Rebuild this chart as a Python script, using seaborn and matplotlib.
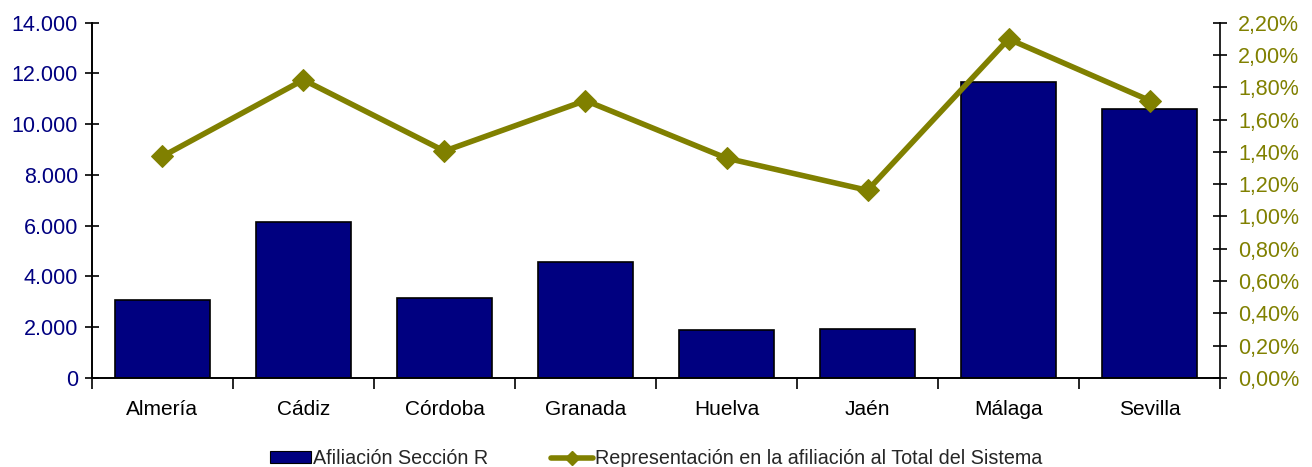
import numpy as np
import pandas as pd
import matplotlib
matplotlib.use("Agg")
import matplotlib.pyplot as plt
from matplotlib.ticker import FuncFormatter, MultipleLocator, FixedLocator
from matplotlib.lines import Line2D
from matplotlib.patches import Patch
import seaborn as sns

provincias = ["Almería", "Cádiz", "Córdoba", "Granada", "Huelva", "Jaén", "Málaga", "Sevilla"]
afiliacion = [3090, 6150, 3150, 4590, 1890, 1950, 11680, 10610]
representacion = [1.372, 1.846, 1.405, 1.718, 1.361, 1.162, 2.099, 1.718]

etiqueta_barras = "Afiliación Sección R"
etiqueta_linea = "Representación en la afiliación al Total del Sistema"

df = pd.DataFrame({"provincia": provincias, "afiliacion": afiliacion,
                   "representacion": representacion})
df["pos"] = np.arange(len(df))

sns.set_style("white")
plt.rcParams["font.family"] = ["Liberation Sans", "DejaVu Sans"]

navy = "#000080"
olive = "#808000"

fig = plt.figure(figsize=(13.12, 4.67), dpi=100)
ax = fig.add_axes([0.070, 0.1906, 0.860, 0.7608])

sns.barplot(data=df, x="provincia", y="afiliacion", color=navy, saturation=1,
            width=0.67, edgecolor="black", linewidth=1.2, ax=ax)

ax2 = ax.twinx()
sns.lineplot(data=df, x="pos", y="representacion", color=olive, linewidth=4,
             marker="D", markersize=11, markeredgecolor=olive, ax=ax2)

ax.set_xlim(-0.5, len(provincias) - 0.5)
ax.set_ylim(0, 14000)
ax2.set_ylim(0, 2.2)

ax.yaxis.set_major_locator(MultipleLocator(2000))
ax2.yaxis.set_major_locator(MultipleLocator(0.2))
ax.yaxis.set_major_formatter(FuncFormatter(lambda v, p: f"{int(v):,}".replace(",", ".")))
ax2.yaxis.set_major_formatter(FuncFormatter(lambda v, p: f"{v:.2f}%".replace(".", ",")))

ax.set_xlabel("")
ax.set_ylabel("")
ax2.set_xlabel("")
ax2.set_ylabel("")

for a in (ax, ax2):
    for s in a.spines.values():
        s.set_color("black")
        s.set_linewidth(1.2)
    a.spines["top"].set_visible(False)
ax.spines["right"].set_visible(False)

ax.tick_params(axis="y", direction="inout", length=10, width=1.2, colors="black",
               labelcolor=navy, labelsize=15.5, left=True, pad=5)
ax2.tick_params(axis="y", direction="inout", length=10, width=1.2, colors="black",
                labelcolor=olive, labelsize=15.5, right=True, pad=8)
ax.tick_params(axis="x", which="major", length=0, labelsize=15, labelcolor="black", pad=16)
ax.xaxis.set_minor_locator(FixedLocator(np.arange(-0.5, len(provincias), 1.0)))
ax.tick_params(axis="x", which="minor", direction="out", length=8, width=1.2,
               color="black", bottom=True)

ax.grid(False)
ax2.grid(False)
ax.set_zorder(1)
ax2.set_zorder(2)
ax2.patch.set_visible(False)

handles = [
    Patch(facecolor=navy, edgecolor="black", linewidth=0.8),
    Line2D([0], [0], color=olive, linewidth=4, marker="D", markersize=7),
]
fig.legend(handles, [etiqueta_barras, etiqueta_linea], loc="center",
           bbox_to_anchor=(0.5, 0.018), ncol=2, frameon=False, handlelength=2.1,
           handleheight=0.55, handletextpad=0.1, columnspacing=3.2,
           prop={"family": ["Liberation Sans", "DejaVu Sans"], "size": 14.2})

fig.savefig("out.png", dpi=100)
